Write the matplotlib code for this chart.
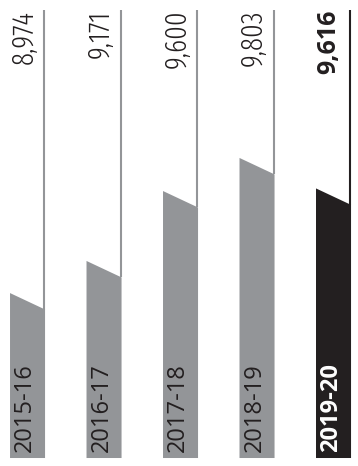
import matplotlib
matplotlib.use("Agg")
from matplotlib import pyplot as plt
from matplotlib.patches import Polygon

# data
years = ['2015-16', '2016-17', '2017-18', '2018-19', '2019-20']
values = [8974, 9171, 9600, 9803, 9616]
labels = ['8,974', '9,171', '9,600', '9,803', '9,616']

# style
grey = '#939598'
black = '#231f20'
base = 7962        # value at bar bottom
top = 10712        # where the thin lines stop
slant = 101        # drop of the cut top, in data units
w = 0.458
narrow = ['Fira Sans Extra Condensed', 'Fira Sans Condensed', 'DejaVu Sans']

fig = plt.figure(figsize=(3.58, 4.66), dpi=100, facecolor='white')
ax = fig.add_axes([0, 0, 1, 1])
ax.set_xlim(-0.36, 4.32)
ax.set_ylim(7913, 10772)
ax.axis('off')

for i, (yr, v, lab) in enumerate(zip(years, values, labels)):
    last = (i == len(years) - 1)
    c = black if last else grey
    x0, x1 = i - w/2, i + w/2
    poly = Polygon([(x0, base), (x0, v), (x1, v - slant), (x1, base)],
                   closed=True, facecolor=c, edgecolor='none')
    ax.add_patch(poly)
    # thin line from bar edge up to top
    ax.plot([x1 - 0.012, x1 - 0.012], [v - slant, top], color=c, lw=1.5,
            solid_capstyle='butt')
    # year label inside bar
    ax.text(i - 0.03, base + 35, yr, rotation=90, ha='center', va='bottom',
            fontsize=17, family='Open Sans',
            fontweight='bold' if last else 'normal',
            color='white' if last else black)
    # value label at top
    if last:
        ax.text(x0, top, lab, rotation=90, ha='left', va='top',
                fontsize=18, family='Open Sans', fontweight='bold', color=black)
    else:
        ax.text(x0, top, lab, rotation=90, ha='left', va='top',
                fontsize=21, family=narrow, fontweight=300, color=black)

plt.savefig('out.png', dpi=100, facecolor='white')
